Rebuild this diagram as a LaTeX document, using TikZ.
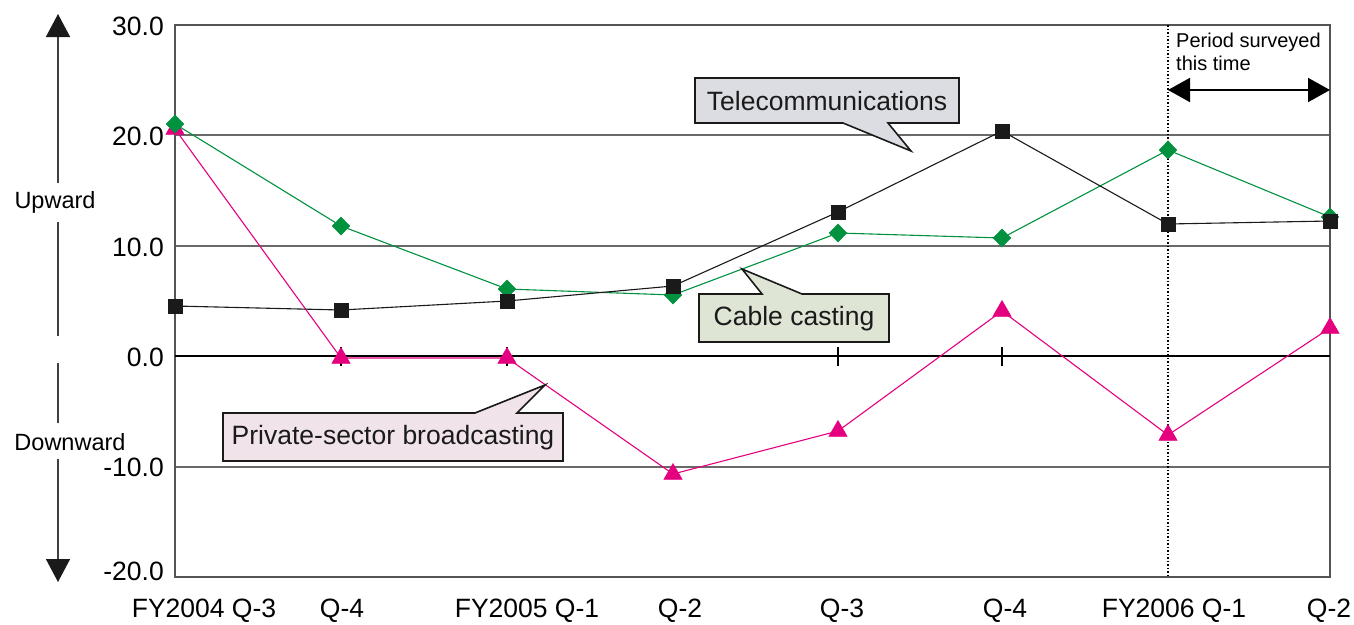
\documentclass[tikz,border=0pt]{standalone}
\usepackage{fontspec}
\setmainfont{Liberation Sans}
\usetikzlibrary{arrows.meta,plotmarks}
\definecolor{cgreen}{RGB}{0,146,63}
\definecolor{cmag}{RGB}{228,0,127}
\definecolor{cblk}{RGB}{26,26,26}
\definecolor{gridc}{RGB}{105,105,105}
\definecolor{telfill}{RGB}{220,221,227}
\definecolor{cabfill}{RGB}{222,229,212}
\definecolor{prifill}{RGB}{240,227,233}
\newcommand\myfontA{\fontsize{26.5}{30}\selectfont}
\newcommand\myfontB{\fontsize{23.5}{27}\selectfont}
\newcommand\myfontC{\fontsize{20}{23}\selectfont}
\begin{document}
\begin{tikzpicture}[x=1pt,y=-1pt,
  gridline/.style={gridc,line width=1.3pt},
  frameline/.style={gridc!80!black,line width=1.5pt},
  zeroline/.style={black,line width=2.4pt},
  tickmark/.style={black,line width=1.2pt},
  ylab/.style={anchor=east,font=\myfontA,inner sep=0pt},
  xlab/.style={font=\myfontA,inner sep=0pt},
  sidelab/.style={font=\myfontB,inner sep=0pt},
  sidearrow/.style={draw=black!75,fill=cblk,line width=1.5pt},
  callout/.style={draw=cblk,line width=1.6pt,line join=miter},
  callouttext/.style={font=\myfontA,inner sep=0pt,text=cblk},
  telline/.style={cblk,line width=1.1pt},
  cabline/.style={cgreen,line width=1.1pt},
  priline/.style={cmag,line width=1.1pt}
]
\useasboundingbox (0,0) rectangle (1354,624);
\fill[white] (0,0) rectangle (1354,624);

% grid lines
\draw[gridline] (175,135) -- (1330,135);
\draw[gridline] (175,246) -- (1330,246);
\draw[gridline] (175,467) -- (1330,467);
% frame
\draw[frameline] (175,25) rectangle (1330,577);
% period line
\draw[black,line width=1.5pt,dotted] (1168,25) -- (1168,577);
% zero line
\draw[zeroline] (175,356) -- (1330,356);
% ticks
\foreach \xx in {341,507,838,1002} \draw[tickmark] (\xx,347) -- (\xx,366);

% y labels
\node[ylab] (l30) at (164,26) {30.0};
\node[ylab] (l20) at (164,136) {20.0};
\node[ylab] (l10) at (164,247) {10.0};
\node[ylab] (l0) at (164,357) {0.0};
\node[ylab] (lm10) at (164,467) {-10.0};
\node[ylab] (lm20) at (164,571) {-20.0};

% x labels
\node[xlab] (x1) at (204,611) {FY2004 Q-3};
\node[xlab] (x2) at (342,611) {Q-4};
\node[xlab] (x3) at (527,611) {FY2005 Q-1};
\node[xlab] (x4) at (680,611) {Q-2};
\node[xlab] (x5) at (842,611) {Q-3};
\node[xlab] (x6) at (1005,611) {Q-4};
\node[xlab] (x7) at (1174,611) {FY2006 Q-1};
\node[xlab] (x8) at (1329,611) {Q-2};

% side arrow and labels
\node[sidelab] (up) at (55,202) {Upward};
\node[sidelab] (down) at (70,442) {Downward};
\coordinate (uptip) at (58,14);
\coordinate (dntip) at (58,582);
\draw[sidearrow,-{Triangle[length=23pt,width=24pt,color=cblk]}] (up.north -| uptip) ++(0,-8) -- (uptip);
\draw[sidearrow] (58,222) -- (58,336);
\draw[sidearrow] (58,363) -- (58,423);
\draw[sidearrow,-{Triangle[length=23pt,width=24pt,color=cblk]}] (down.south -| dntip) ++(0,8) -- (dntip);

% period surveyed
\node[font=\myfontC,anchor=north west,inner sep=0pt,align=left] (period) at (1176,33) {Period surveyed\\this time};
\coordinate (pl) at (1168,90);
\coordinate (pr) at (1330,90);
\draw[black,line width=2pt,{Triangle[length=22pt,width=24pt]}-{Triangle[length=22pt,width=24pt]}] (pl) -- (pr);

% data series
\draw[priline] plot[mark=triangle*,mark size=10.5pt,mark options={fill=cmag,draw=cmag,line width=0.5pt}] coordinates {(175,129) (341,358) (507,358) (673,474) (838,431) (1002,311) (1168,435) (1330,328)};
\draw[cabline] plot[mark=diamond*,mark size=9pt,mark options={fill=cgreen,draw=cgreen,line width=0.5pt,xscale=1.3}] coordinates {(175,124) (341,226) (507,289) (673,295) (838,233) (1002,238) (1168,150) (1330,217)};
\draw[telline] plot[mark=square*,mark size=7pt,mark options={fill=cblk,draw=cblk,line width=0.5pt}] coordinates {(175,306) (341,310) (507,301) (673,286) (838,212) (1002,131) (1168,224) (1330,221)};

% callouts
\draw[callout,fill=telfill] (695,78) -- (959,78) -- (959,123) -- (888,123) -- (911,151) -- (843,123) -- (695,123) -- cycle;
\node[callouttext] (tel) at (827,101) {Telecommunications};
\draw[callout,fill=cabfill] (699,294) -- (762,294) -- (742,269) -- (802,294) -- (889,294) -- (889,342) -- (699,342) -- cycle;
\node[callouttext] (cab) at (794,319) {Cable casting};
\draw[callout,fill=prifill] (223,413) -- (475,413) -- (545,385) -- (517,413) -- (563,413) -- (563,461) -- (223,461) -- cycle;
\node[callouttext] (pri) at (393,438) {Private-sector broadcasting};
\end{tikzpicture}
\end{document}
